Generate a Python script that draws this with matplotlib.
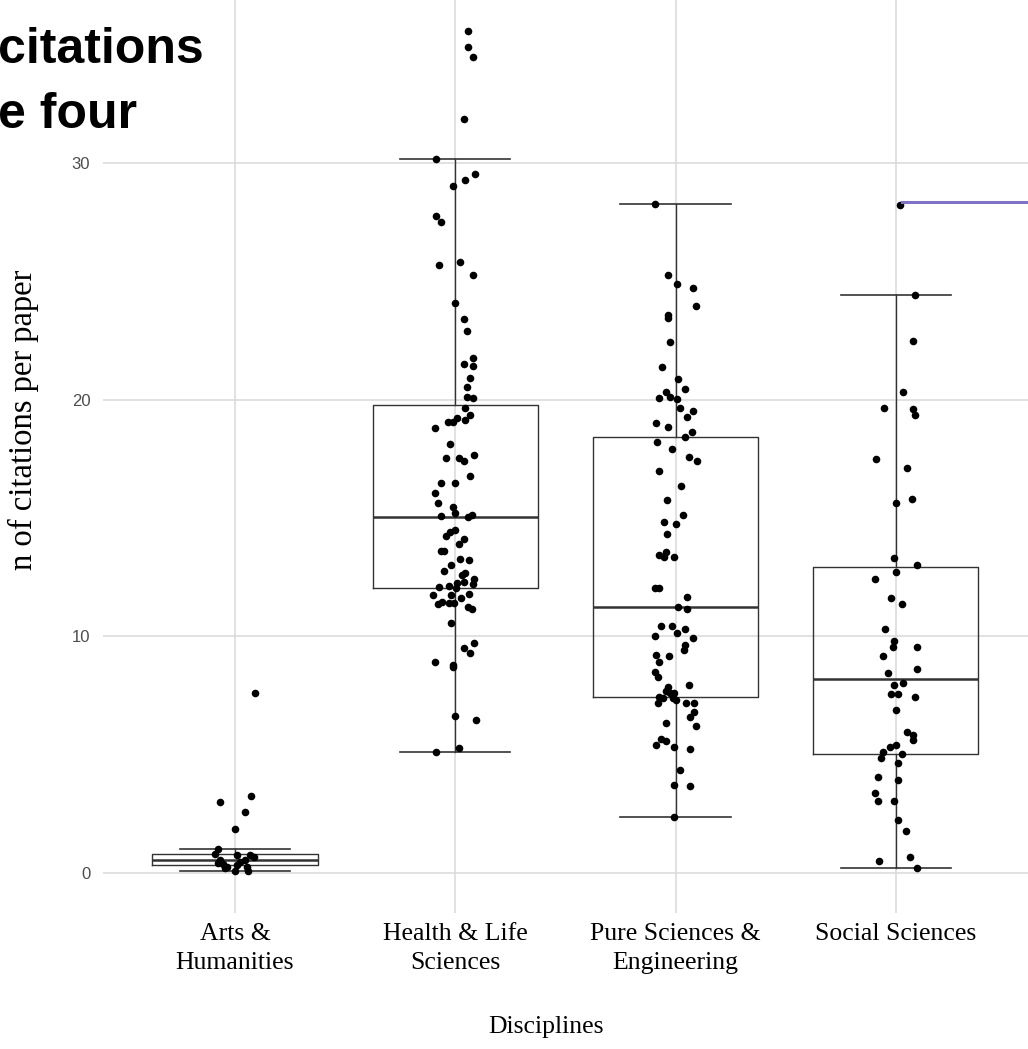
import numpy as np
import matplotlib
matplotlib.use('Agg')
import matplotlib.pyplot as plt

# Categories and box statistics
disciplines = ['Arts &\nHumanities', 'Health & Life\nSciences',
               'Pure Sciences &\nEngineering', 'Social Sciences']
whisker_low = [0.06, 5.09, 2.34, 0.19]
q1 = [0.32, 12.04, 7.44, 5.02]
median = [0.55, 15.05, 11.25, 8.20]
q3 = [0.78, 19.77, 18.41, 12.94]
whisker_high = [1.00, 30.17, 28.26, 24.41]

# Jittered points: values and horizontal offsets from the category centre
arts_values = [7.60, 2.98, 3.24, 2.55, 1.86, 1.00, 0.79, 0.54, 0.37, 0.23, 0.08,
               0.75, 0.47, 0.54, 0.75, 0.65, 0.23, 0.08, 0.40, 0.19, 0.33]
arts_offsets = [0.091, -0.068, 0.073, 0.045, 0.000, -0.076, -0.091, -0.068, -0.056,
                -0.038, 0.000, 0.010, 0.023, 0.045, 0.068, 0.086, 0.053, 0.060,
                -0.076, -0.045, 0.010]

health_values = [35.60, 34.93, 34.50, 31.86, 30.17, 29.56, 29.29, 29.05, 27.77, 27.51,
                 25.70, 25.84, 25.27, 24.10, 23.41, 22.92, 21.75, 21.51, 21.42, 20.93,
                 20.55, 20.13, 20.06, 19.64, 19.35, 19.14, 19.21, 19.07, 19.07, 18.79,
                 18.11, 17.53, 17.53, 17.41, 17.66, 16.79, 16.49, 16.49, 16.07, 15.62,
                 15.45, 15.22, 15.08, 15.03, 15.12, 14.42, 14.49, 14.25, 14.11, 13.89,
                 13.59, 13.59, 13.25, 13.22, 13.01, 12.76, 12.69, 12.59, 12.26, 12.30,
                 12.41, 12.21, 12.09, 12.12, 12.03, 11.74, 11.74, 11.78, 11.60, 11.36,
                 11.46, 11.42, 11.42, 11.25, 11.14, 10.55, 9.73, 9.49, 9.30, 8.92,
                 8.78, 8.68, 6.64, 6.46, 5.26, 5.09]
health_offsets = [0.060, 0.060, 0.080, 0.039, -0.088, 0.088, 0.045, -0.008, -0.088, -0.065,
                  -0.073, 0.021, 0.080, 0.000, 0.039, 0.053, 0.080, 0.039, 0.080, 0.067,
                  0.053, 0.053, 0.079, 0.045, 0.067, 0.045, 0.010, -0.012, -0.035, -0.091,
                  -0.024, -0.042, 0.015, 0.039, 0.086, 0.067, -0.065, 0.000, -0.091, -0.080,
                  -0.012, 0.000, -0.065, 0.056, 0.074, -0.024, 0.000, -0.042, 0.039, 0.015,
                  -0.065, -0.050, 0.021, 0.064, -0.020, -0.053, 0.045, 0.030, 0.010, 0.041,
                  0.086, 0.082, -0.073, -0.030, 0.003, -0.100, -0.020, 0.064, 0.026, -0.080,
                  -0.058, -0.027, -0.005, 0.056, 0.076, -0.020, 0.086, 0.041, 0.067, -0.091,
                  -0.012, -0.008, 0.000, 0.094, 0.015, -0.088]

pure_values = [28.26, 25.27, 24.91, 24.74, 23.97, 23.58, 23.44, 22.43, 21.37, 20.88,
               20.45, 20.34, 20.08, 20.13, 20.03, 19.64, 19.52, 19.27, 19.03, 18.83,
               18.65, 18.41, 18.21, 17.90, 17.59, 17.41, 16.97, 16.35, 15.76, 15.12,
               14.82, 14.74, 14.32, 13.57, 13.43, 13.34, 13.34, 12.03, 12.03, 11.64,
               11.22, 11.14, 10.43, 10.43, 10.15, 10.29, 10.01, 9.91, 9.63, 9.42,
               9.21, 9.18, 8.92, 8.50, 8.29, 7.94, 7.86, 7.70, 7.59, 7.59,
               7.44, 7.37, 7.37, 7.30, 7.19, 7.19, 7.19, 6.81, 6.57, 6.20,
               6.32, 5.64, 5.58, 5.40, 5.33, 5.22, 4.34, 3.71, 3.67, 2.37]
pure_offsets = [-0.092, -0.035, 0.006, 0.079, 0.091, -0.035, -0.035, -0.027, -0.060, 0.012,
                0.041, -0.045, -0.073, -0.027, 0.006, 0.018, 0.079, 0.051, -0.088, -0.035,
                0.074, 0.041, -0.082, -0.015, 0.059, 0.098, -0.074, 0.026, -0.039, 0.033,
                -0.054, 0.003, -0.039, -0.042, -0.076, -0.054, -0.008, -0.095, -0.076, 0.051,
                0.012, 0.051, -0.067, -0.015, 0.006, 0.045, -0.095, 0.079, 0.045, 0.038,
                -0.088, -0.030, -0.073, -0.095, -0.080, 0.060, -0.035, -0.042, -0.027, -0.005,
                -0.073, -0.058, -0.012, 0.003, -0.080, 0.049, 0.086, 0.086, 0.067, 0.091,
                -0.045, -0.065, -0.045, -0.088, -0.005, 0.067, 0.018, -0.005, 0.067, -0.005]

social_values = [28.23, 24.41, 22.48, 20.31, 19.64, 19.59, 19.35, 17.48, 17.10, 15.81,
                 15.62, 13.32, 13.01, 12.70, 12.41, 11.60, 11.35, 10.29, 9.80, 9.56,
                 9.56, 9.16, 8.61, 8.43, 7.94, 8.01, 7.56, 7.56, 7.44, 6.88,
                 5.96, 5.82, 5.61, 5.33, 5.40, 5.12, 5.02, 4.84, 4.65, 4.06,
                 3.92, 3.36, 3.03, 3.03, 2.23, 1.75, 0.51, 0.68, 0.19]
social_offsets = [0.018, 0.085, 0.079, 0.033, -0.054, 0.079, 0.086, -0.088, 0.051, 0.073,
                  0.003, -0.008, 0.097, 0.003, -0.094, -0.021, 0.026, -0.049, -0.008, -0.015,
                  0.097, -0.060, 0.097, -0.036, -0.008, 0.033, -0.023, 0.012, 0.085, 0.003,
                  0.051, 0.079, 0.079, -0.027, 0.000, -0.060, 0.026, -0.069, 0.012, -0.083,
                  0.012, -0.094, -0.083, -0.008, 0.012, 0.044, -0.076, 0.064, 0.097]

# Purple reference segment at the right edge
purple_y = 28.37
purple_x = [4.03, 4.7]

values = [arts_values, health_values, pure_values, social_values]
offsets = [arts_offsets, health_offsets, pure_offsets, social_offsets]
positions = [1, 2, 3, 4]

fig = plt.figure(figsize=(10.28, 10.49), dpi=100)
ax = fig.add_axes([0.1, 0.12974, 0.9, 0.8815])
ax.set_xlim(0.4, 4.6)
ax.set_ylim(-1.7, 37.4)

# Grid (major only), no spines
ax.set_axisbelow(True)
ax.grid(True, color='#D9D9D9', linewidth=1.1)
for s in ax.spines.values():
    s.set_visible(False)

# Boxplots from the stats
stats = []
for i in range(4):
    stats.append({'whislo': whisker_low[i], 'q1': q1[i], 'med': median[i],
                  'q3': q3[i], 'whishi': whisker_high[i], 'fliers': []})
line_col = '#333333'
ax.bxp(stats, positions=positions, widths=0.75, capwidths=0.5, showfliers=False,
       boxprops=dict(color=line_col, linewidth=1.0),
       whiskerprops=dict(color=line_col, linewidth=1.0),
       capprops=dict(color=line_col, linewidth=1.2),
       medianprops=dict(color=line_col, linewidth=1.8))

# Jittered points
for pos, vals, offs in zip(positions, values, offsets):
    ax.scatter(pos + np.array(offs), vals, s=30, color='black', zorder=3, linewidths=0)

ax.plot(purple_x, [purple_y, purple_y], color='#8172C8', linewidth=2.2, zorder=4)

# Ticks
ax.set_yticks([0, 10, 20, 30])
ax.set_xticks(positions)
ax.set_xticklabels(disciplines, family='Liberation Serif', fontsize=18.5, linespacing=1.45)
ax.tick_params(axis='both', length=0)
ax.tick_params(axis='x', pad=7)
ax.tick_params(axis='y', pad=9, labelcolor='#4D4D4D', labelsize=12)
for lab in ax.get_yticklabels():
    lab.set_family('Liberation Sans')

# Axis titles
fig.text(546 / 1028, 1 - 1027 / 1049, 'Disciplines', family='Liberation Serif',
         fontsize=18.5, ha='center', va='center')
fig.text(23 / 1028, 1 - 420 / 1049, 'n of citations per paper', family='Liberation Serif',
         fontsize=23.5, rotation=90, ha='center', va='center')

# Cut-off title in the top left
fig.text(-2 / 1028, 1 - 63 / 1049, 'citations', family='Liberation Sans', weight='bold',
         fontsize=36, ha='left', va='baseline')
fig.text(-2 / 1028, 1 - 128 / 1049, 'e four', family='Liberation Sans', weight='bold',
         fontsize=36, ha='left', va='baseline')

plt.savefig('out.png', dpi=100)
